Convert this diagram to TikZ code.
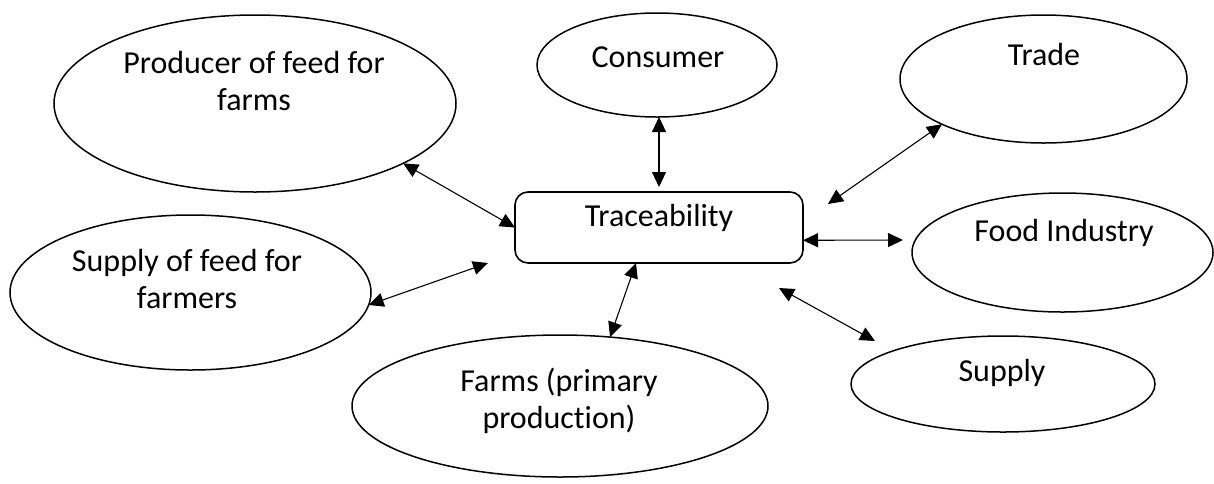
\documentclass[tikz,border=0pt]{standalone}
\usepackage{fontspec}
\setmainfont{Carlito}[Ligatures=NoCommon]
\usetikzlibrary{arrows.meta,calc,shapes.geometric}
\begin{document}
\begin{tikzpicture}[x=1pt,y=-1pt,
  bubble/.style={ellipse,draw,line width=1.5pt,inner sep=0pt,outer sep=0pt},
  hub/.style={rectangle,draw,line width=1.6pt,rounded corners=13pt,inner sep=0pt,outer sep=0pt},
  lbl/.style={anchor=base,align=center,inner sep=0pt,font=\fontsize{32}{37}\selectfont},
  link/.style={{Triangle[length=15pt,width=14pt]}-{Triangle[length=15pt,width=14pt]},line width=1.1pt}]
\useasboundingbox (0,0) rectangle (1214,483);

% central box
\node[hub,minimum width=288,minimum height=71] (trace) at (659,227.5) {};
\node[lbl] (trace-text) at (659,226) {Traceability};

% surrounding actors (two-line labels are placed by their last baseline)
\node[bubble,minimum width=402,minimum height=177] (producer) at (255,103.5) {};
\node[lbl] (producer-text) at (254,110) {Producer of feed for\\farms};

\node[bubble,minimum width=240,minimum height=104] (consumer) at (657,65) {};
\node[lbl] (consumer-text) at (658,67) {Consumer};

\node[bubble,minimum width=287,minimum height=128] (trade) at (1043.5,79) {};
\node[lbl] (trade-text) at (1044,65) {Trade};

\node[bubble,minimum width=301,minimum height=119] (food) at (1062.5,252.5) {};
\node[lbl] (food-text) at (1064,241) {Food Industry};

\node[bubble,minimum width=304,minimum height=96] (supply) at (1003,384) {};
\node[lbl] (supply-text) at (1002,381) {Supply};

\node[bubble,minimum width=416,minimum height=142] (farms) at (560,406) {};
\node[lbl] (farms-text) at (559,428) {Farms (primary\\production)};

\node[bubble,minimum width=361,minimum height=155] (feed) at (190.5,292.5) {};
\node[lbl] (feed-text) at (187,308) {Supply of feed for\\farmers};

% free arrow ends
\coordinate (feed-end) at (488,263);
\coordinate (trade-end) at (828,204);
\coordinate (food-end) at (903,240);
\coordinate (supply-start) at (779,288);
\coordinate (supply-end) at (875,341);

% two-way links
\draw[link] (consumer.south -| trace.north) -- (trace.north) [shorten >=5pt];
\draw[link] (producer.-22) -- (trace.west);
\draw[link] (feed.-4) -- (feed-end);
\draw[link] (trade.-156.5) -- (trade-end);
\draw[link] ($(trace.north east)!0.68!(trace.south east)$) -- (food-end);
\draw[link] (supply-start) -- (supply-end);
\draw[link] ($(trace.south west)!0.42!(trace.south east)$) -- (farms.54);
\end{tikzpicture}
\end{document}
